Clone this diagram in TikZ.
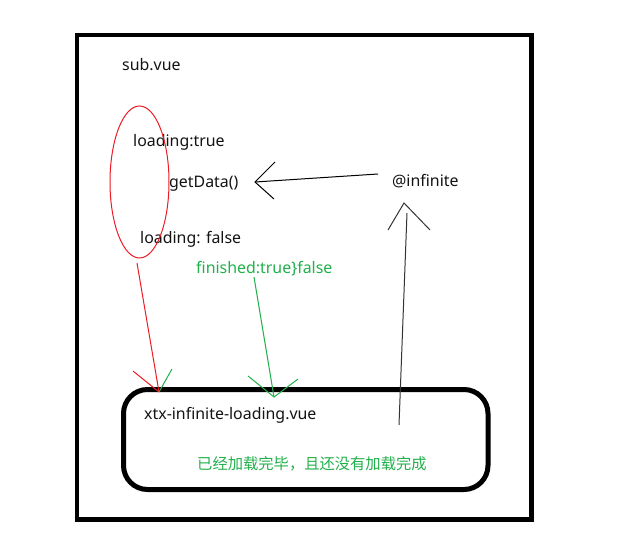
\documentclass[tikz,border=0pt]{standalone}
\usepackage{fontspec}
\usetikzlibrary{shapes.geometric}
\setmainfont{Noto Sans}
\newfontfamily\cjk{Noto Sans CJK SC}
\definecolor{pgreen}{RGB}{34,177,76}
\definecolor{pred}{RGB}{237,28,36}
\definecolor{ptext}{RGB}{20,20,20}
\begin{document}
\begin{tikzpicture}[x=1pt,y=-1pt,
  lbl/.style={font=\fontsize{15.9}{18}\selectfont, text=ptext, inner sep=0pt, anchor=west},
  glbl/.style={lbl, text=pgreen},
  thinline/.style={line width=1pt},
  thick frame/.style={line width=4.5pt}]
\useasboundingbox (0,0) rectangle (625,538);
\fill[white] (0,0) rectangle (625,538);
% outer frame
\draw[thick frame] (77,35) rectangle (531.5,519.5);
% rounded box
\draw[line width=5pt, rounded corners=24] (123.5,389.5) rectangle (488,489.5);
% texts
\node[lbl] (sub) at (122,65) {sub.vue};
\node[lbl] (ltrue) at (133,142) {loading:true};
\node[lbl] (get) at (169,184) {getData()};
\node[lbl] (lfalse) at (140,239) {loading: false};
\node[lbl] (inf) at (392,181) {@infinite};
\node[glbl] (fin) at (196,269) {finished:true\}false};
\node[lbl] (xtx) at (144,415) {xtx-infinite-loading.vue};
\node[glbl, font=\cjk\fontsize{15.3}{18}\selectfont] (cn) at (197,464) {已经加载完毕，且还没有加载完成};
% red ellipse
\node[draw=pred, thinline, ellipse, minimum width=59, minimum height=152, inner sep=0pt] (ell) at (139.5,182) {};
% coordinates
\coordinate (redS) at (137,263);
\coordinate (redT) at (159,392);
\coordinate (redL) at (133,371);
\coordinate (redR) at (172,369);
\coordinate (grS) at (254,277);
\coordinate (grT) at (274,397);
\coordinate (grL) at (248,376);
\coordinate (grR) at (298,379);
\coordinate (bkS) at (378,174);
\coordinate (bkT) at (255,182);
\coordinate (bkL) at (275,162);
\coordinate (bkR) at (274,199);
\coordinate (upS) at (399,425);
\coordinate (upM) at (407,213);
\coordinate (upT) at (404,203);
\coordinate (upL) at (388,230);
\coordinate (upR) at (430,230);
% red arrow
\draw[pred, thinline] (redS) -- (redT);
\draw[pred, thinline] (redL) -- (redT);
\draw[pgreen, thinline] (redR) -- (redT);
% green arrow
\draw[pgreen, thinline] (grS) -- (grT);
\draw[pgreen, thinline] (grL) -- (grT) -- (grR);
% black arrow to getData
\draw[black, thinline] (bkS) -- (bkT);
\draw[black, thinline] (bkL) -- (bkT) -- (bkR);
% up arrow to @infinite
\draw[black!80, thinline] (upS) -- (upM);
\draw[black!80, thinline] (upL) -- (upT) -- (upR);
\end{tikzpicture}
\end{document}
